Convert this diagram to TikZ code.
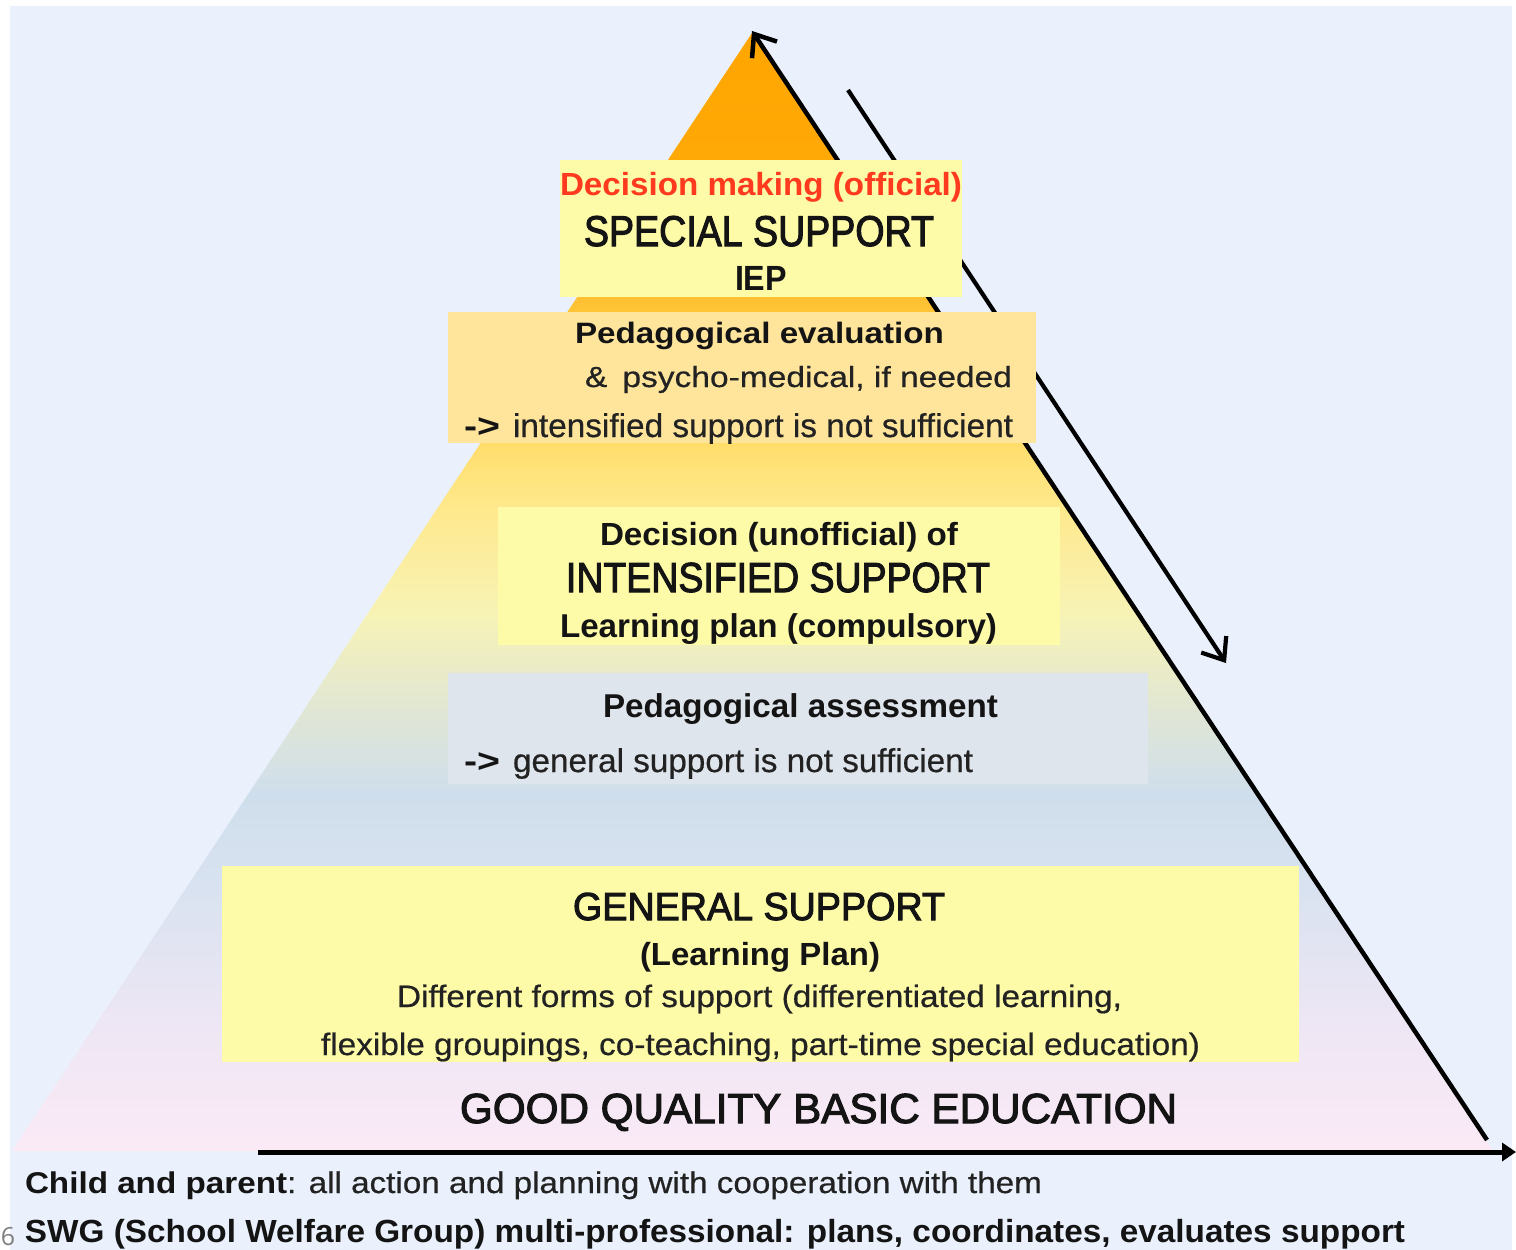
\documentclass[tikz,border=0pt]{standalone}
\usepackage{fontspec}
\setmainfont{Liberation Sans}
\newfontfamily\headfont[FakeBold=2.6]{Liberation Sans}
\newfontfamily\bodyfont[FakeBold=0.5]{Liberation Sans}
\newfontfamily\slidenumfont{Open Sans}
\usepackage{graphicx}
\usetikzlibrary{arrows.meta}

% palette
\definecolor{bgblue}{HTML}{EAF1FC}
\definecolor{boxyellow}{HTML}{FDFAA8}
\definecolor{boxapricot}{HTML}{FFE59C}
\definecolor{boxgrey}{HTML}{DFE5EC}
\definecolor{ink}{HTML}{141414}
\definecolor{bodyink}{HTML}{222222}
\definecolor{alertred}{HTML}{FF3A1E}
\definecolor{numgrey}{HTML}{808080}

% colour stops of the pyramid, bottom to top
\definecolor{pyA}{HTML}{FBEAF6}
\definecolor{pyB}{HTML}{EDE6F4}
\definecolor{pyC}{HTML}{D8E2F0}
\definecolor{pyD}{HTML}{CFDEEC}
\definecolor{pyE}{HTML}{E2E7D2}
\definecolor{pyF}{HTML}{F7F3B6}
\definecolor{pyG}{HTML}{FFE88A}
\definecolor{pyH}{HTML}{FFD85C}
\definecolor{pyI}{HTML}{FFC63C}
\definecolor{pyJ}{HTML}{FFAA08}
\definecolor{pyK}{HTML}{FFA500}

\pgfdeclareverticalshading{pyramidfade}{100bp}{%
  color(0bp)=(pyA); color(25bp)=(pyA); color(31bp)=(pyB);
  color(37bp)=(pyC); color(41bp)=(pyD); color(45bp)=(pyE);
  color(49bp)=(pyF); color(54bp)=(pyG); color(58bp)=(pyH);
  color(62bp)=(pyI); color(68bp)=(pyJ); color(75bp)=(pyK);
  color(100bp)=(pyK)}

% set a line at its natural height and stretch it to a given width
\newsavebox\fitbox
\newcommand\fitto[2]{%
  \sbox\fitbox{#2}%
  \pgfmathsetmacro\fitsx{#1/\the\wd\fitbox}%
  \scalebox{\fitsx}[1]{\usebox\fitbox}}

\begin{document}
\begin{tikzpicture}[x=1pt,y=-1pt,
  panel/.style={rectangle, inner sep=0pt, outer sep=0pt, draw=none},
  line/.style={anchor=base west, inner sep=0pt, outer sep=0pt, text=ink},
  fs/.style={font={\bodyfont\fontsize{#1}{#1}\selectfont}, text=bodyink},
  fsb/.style={font={\fontsize{#1}{#1}\selectfont\bfseries}},
  fsh/.style={font={\headfont\fontsize{#1}{#1}\selectfont}},
  barbarrow/.style={line width=4.5pt, -{Straight Barb[length=19pt,width=30pt]}},
]
\useasboundingbox (0,0) rectangle (1516,1250);
\fill[white] (0,0) rectangle (1516,1250);
\fill[bgblue] (10,6) rectangle (1512,1250);

% the pyramid
\coordinate (apex) at (752,33);
\coordinate (baseL) at (12,1151);
\coordinate (baseR) at (1493,1151);
\shade[shading=pyramidfade] (apex) -- (baseR) -- (baseL) -- cycle;

% arrows along the right flank and the base
\coordinate (riseS) at (1487,1140);
\coordinate (riseE) at (752,31);
\draw[barbarrow] (riseS) -- (riseE);
\coordinate (fallS) at (848,90);
\coordinate (fallE) at (1226,663);
\draw[barbarrow, line width=4.2pt] (fallS) -- (fallE);
\coordinate (axisS) at (258,1152);
\coordinate (axisE) at (1516,1152);
\draw[line width=5pt, -{Triangle[length=14pt,width=18pt]}] (axisS) -- (axisE);

% level panels
\node[panel, fill=boxyellow, minimum width=402pt, minimum height=137pt] (special) at (761,228.5) {};
\node[panel, fill=boxapricot, minimum width=588pt, minimum height=131pt] (evaluation) at (742,377.5) {};
\node[panel, fill=boxyellow, minimum width=562pt, minimum height=138pt] (intensified) at (779,576) {};
\node[panel, fill=boxgrey, minimum width=700pt, minimum height=111pt] (assessment) at (798,728.5) {};
\node[panel, fill=boxyellow, minimum width=1077pt, minimum height=196pt] (general) at (760.5,964) {};

% special support
\node[line, fsb=32, text=alertred] (decOfficial) at (560,195) {\fitto{402}{Decision making (official)}};
\node[line, fsh=43] (specialTitle) at (584,246) {\fitto{350}{SPECIAL SUPPORT}};
\node[line, fsb=35] (iep) at (735,290) {\fitto{52}{IEP}};

% evaluation
\node[line, fsb=29.5] (evalTitle) at (575,343) {\fitto{369}{Pedagogical evaluation}};
\node[line, fs=29] (evalMed) at (585,387) {\fitto{427}{\&\hspace{0.45em}psycho-medical, if needed}};
\node[line, fsb=33] (evalArrow) at (464,437) {\fitto{36}{->}};
\node[line, fs=33] (evalReason) at (513,437) {\fitto{500}{intensified support is not sufficient}};

% intensified support
\node[line, fsb=32] (decUnofficial) at (600,545) {\fitto{358}{Decision (unofficial) of}};
\node[line, fsh=42] (intensTitle) at (566,592) {\fitto{424}{INTENSIFIED SUPPORT}};
\node[line, fsb=33] (intensPlan) at (560,637) {\fitto{437}{Learning plan (compulsory)}};

% assessment
\node[line, fsb=33] (assessTitle) at (603,717) {\fitto{395}{Pedagogical assessment}};
\node[line, fsb=33] (assessArrow) at (464,772) {\fitto{36}{->}};
\node[line, fs=33] (assessReason) at (513,772) {\fitto{460}{general support is not sufficient}};

% general support
\node[line, fsh=39] (generalTitle) at (573,920) {\fitto{372}{GENERAL SUPPORT}};
\node[line, fsb=32] (generalPlan) at (640,965) {\fitto{240}{(Learning Plan)}};
\node[line, fs=31] (generalForms) at (397,1007) {\fitto{725}{Different forms of support (differentiated learning,}};
\node[line, fs=31] (generalList) at (321,1055) {\fitto{879}{flexible groupings, co-teaching, part-time special education)}};

% foundation
\node[line, fsh=42] (basic) at (460,1123) {\fitto{717}{GOOD QUALITY BASIC EDUCATION}};

% notes under the base
\node[line, fs=30] (childNote) at (25,1193) {\fitto{1017}{{\normalfont\fontsize{30}{30}\selectfont\bfseries\color{ink}Child and parent}: all action and planning with cooperation with them}};
\node[line, fsb=32] (swgNote) at (25,1242) {\fitto{1380}{SWG (School Welfare Group) multi-professional: plans, coordinates, evaluates support}};
\node[line, text=numgrey, font={\fontsize{25}{25}\selectfont\slidenumfont}] (slideNum) at (1,1245) {6};
\end{tikzpicture}
\end{document}
